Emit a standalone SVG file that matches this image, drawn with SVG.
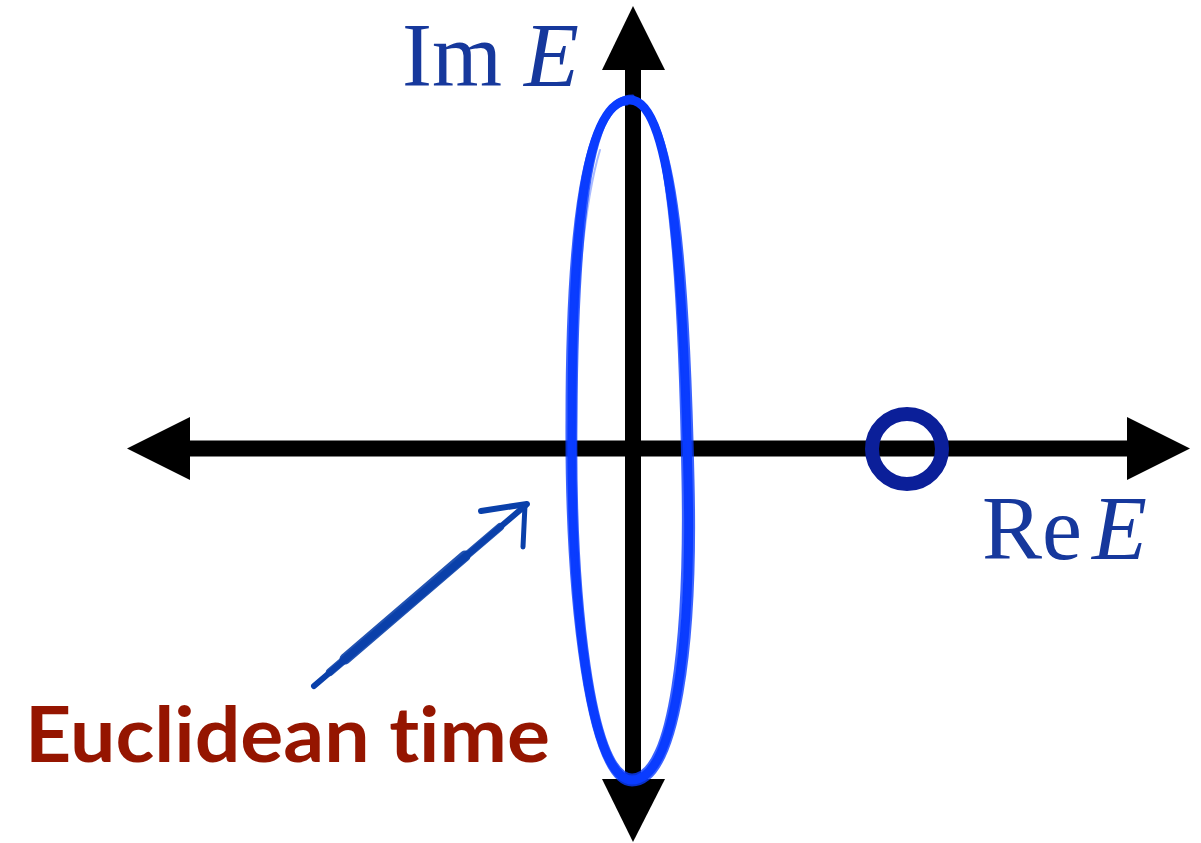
<svg xmlns="http://www.w3.org/2000/svg" width="1201" height="843" viewBox="0 0 1201 843">
<style>
.axis{stroke:#000;stroke-width:16;fill:none}
.head{fill:#000}
.lbl{font-family:"Liberation Serif","DejaVu Serif",serif;font-size:90px;fill:#16389c}
.brush{fill:none;stroke:#0a3cff;stroke-linecap:round;stroke-linejoin:round}
.ptr{fill:none;stroke:#0a40aa;stroke-linecap:round}
</style>
<rect width="1201" height="843" fill="#fff"/>
<g id="connectors">
  <line class="axis" x1="190" y1="448.5" x2="1128" y2="448.5"/>
  <polygon class="head" points="127,448.5 190,417 190,480"/>
  <polygon class="head" points="1190,448.5 1127,417 1127,480"/>
  <line class="axis" x1="633" y1="69" x2="633" y2="780"/>
  <polygon class="head" points="633,6 602,70 665,70"/>
  <polygon class="head" points="633,842 602,779 665,779"/>
</g>
<g id="contour">
  <path class="brush" stroke-width="9" d="M630 100 C585 100 572 230 572 420 C570 600 590 780 632 780 C675 780 692 640 688 480 C684 300 675 100 630 100 Z"/>
  <path class="brush" stroke-width="3" opacity="0.8" d="M627 104 C590 104 577 230 576 420 C574 600 594 774 632 775 C670 774 686 640 683 480 C680 300 670 103 634 103"/>
  <path class="brush" stroke-width="3" opacity="0.8" d="M633 96 C582 96 567 230 567 420 C566 600 587 785 632 785 C680 785 697 640 693 480 C689 300 680 96 628 97"/>
  <path class="brush" stroke-width="2" stroke="#ffffff" opacity="0.35" d="M600 150 C585 200 574 300 574 420 C573 560 580 680 600 740"/>
  <path class="brush" stroke-width="2" stroke="#ffffff" opacity="0.35" d="M662 160 C675 250 684 350 686 480 C688 600 680 690 660 745"/>
</g>
<g id="pole">
  <circle cx="907" cy="449" r="35" fill="none" stroke="#0b1f99" stroke-width="14"/>
</g>
<g id="label-im">
  <text class="lbl" x="402" y="86">Im<tspan x="524" font-style="italic">E</tspan></text>
</g>
<g id="label-re">
  <text class="lbl" x="982" y="559">Re<tspan x="1092" font-style="italic">E</tspan></text>
</g>
<g id="pointer">
  <path class="ptr" stroke-width="6" d="M314 686 L526 505"/>
  <path class="ptr" stroke-width="11" opacity="0.9" d="M345 659 L465 556"/>
  <path class="ptr" stroke-width="8" opacity="0.9" d="M330 672 L500 527"/>
  <path class="ptr" stroke-width="6" d="M481 511 L527 504"/>
  <path class="ptr" stroke-width="5" d="M525 505 L523 547"/>
</g>
<g id="label-euclidean">
  <text x="25" y="762" font-family="Lato,'Liberation Sans',sans-serif" font-weight="bold" font-size="76" fill="#951500" style="font-variant-ligatures:none" textLength="525" lengthAdjust="spacingAndGlyphs">Euclidean time</text>
</g>
</svg>
